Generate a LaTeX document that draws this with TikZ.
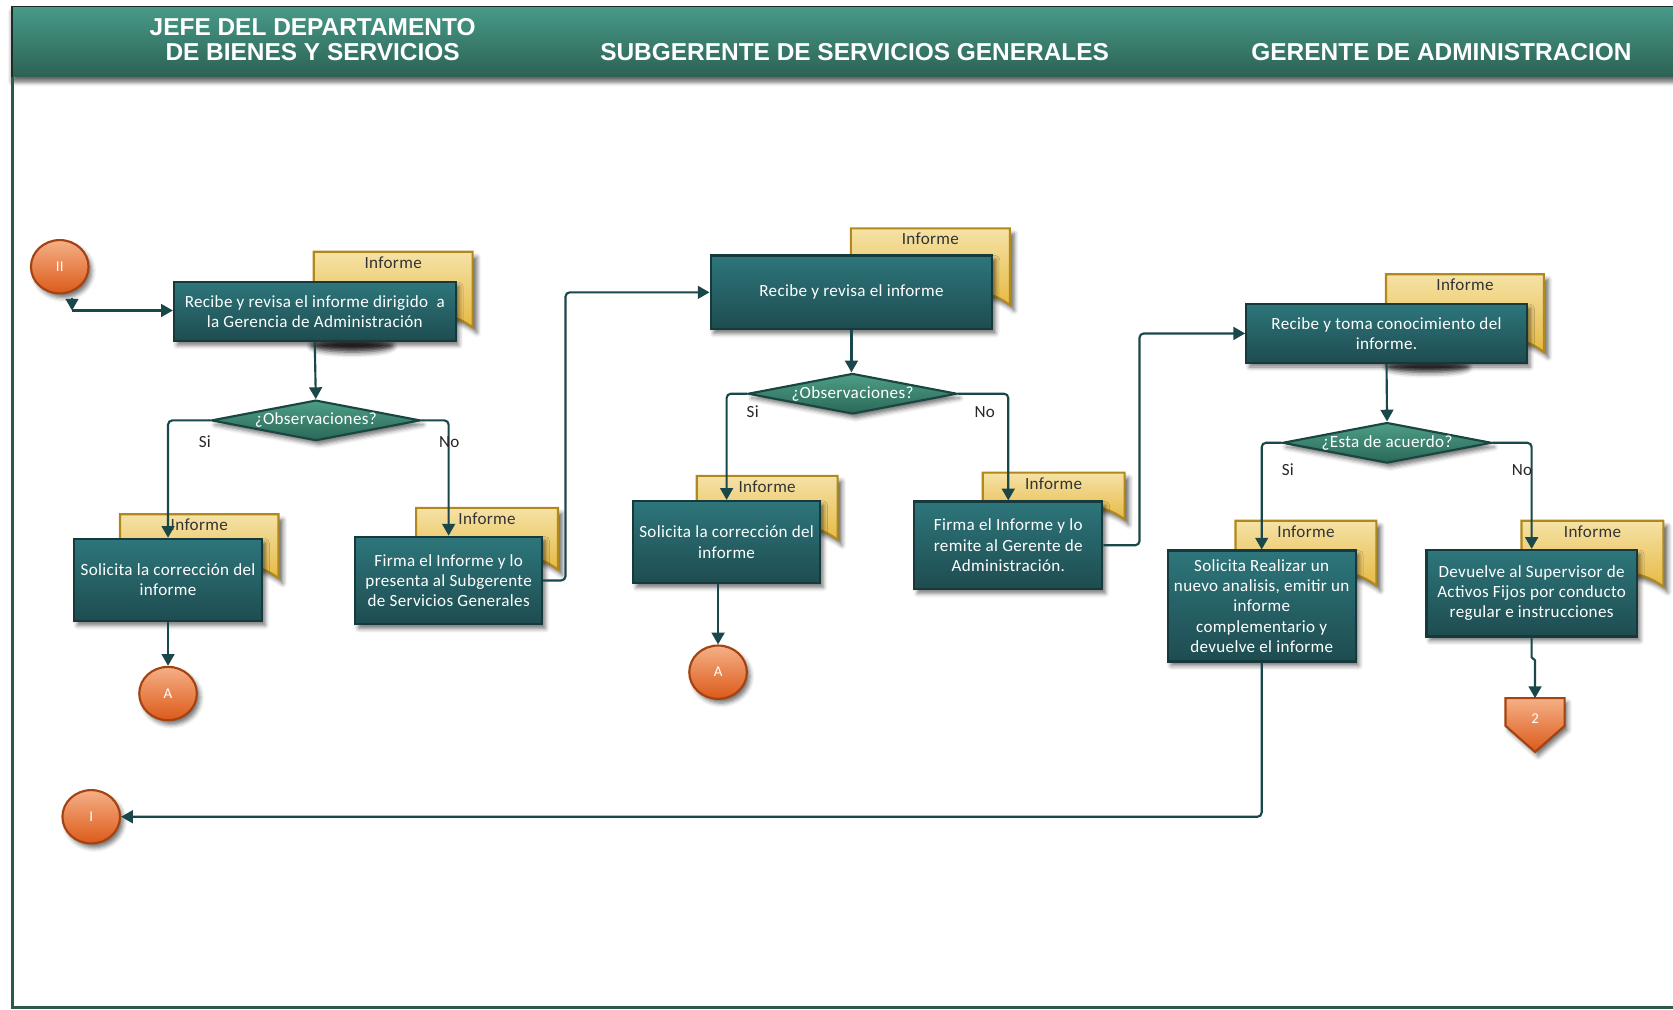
\documentclass[tikz,border=0pt]{standalone}
\usepackage{fontspec}
\setmainfont{Carlito}[LetterSpace=2]
\newfontfamily\headfont{Liberation Sans}
\usetikzlibrary{shapes.geometric,arrows.meta,shadows.blur}

\definecolor{hdtop}{RGB}{72,154,137}
\definecolor{hdbot}{RGB}{44,98,84}
\definecolor{hdline}{RGB}{24,44,40}
\definecolor{framecol}{RGB}{44,88,78}
\definecolor{boxtop}{RGB}{45,118,123}
\definecolor{boxbot}{RGB}{30,76,80}
\definecolor{boxedge}{RGB}{22,58,60}
\definecolor{dtop}{RGB}{78,158,134}
\definecolor{dbot}{RGB}{42,104,88}
\definecolor{dedge}{RGB}{26,70,66}
\definecolor{doctop}{RGB}{245,226,166}
\definecolor{docbot}{RGB}{230,184,66}
\definecolor{docedge}{RGB}{176,136,28}
\definecolor{ctop}{RGB}{245,176,134}
\definecolor{cbot}{RGB}{220,90,26}
\definecolor{cedge}{RGB}{164,66,18}
\definecolor{wire}{RGB}{26,72,74}

\tikzset{
  softshadow/.style={blur shadow={shadow xshift=3pt, shadow yshift=-4pt,
      shadow blur radius=4pt, shadow opacity=55}},
  procbox/.style={draw=boxedge, line width=2pt, top color=boxtop,
      bottom color=boxbot, text=white, align=center, inner sep=2pt,
      font=\fontsize{16}{19}\selectfont, softshadow},
  decision/.style={shape=diamond, aspect=5.1, inner sep=0pt, draw=dedge,
      line width=2pt, top color=dtop, bottom color=dbot, text=white,
      minimum width=196pt, minimum height=38pt,
      font=\fontsize{16}{19}\selectfont, softshadow},
  docshape/.style={draw=docedge, line width=2pt, top color=doctop,
      bottom color=docbot, blur shadow={shadow xshift=4pt, shadow yshift=-5pt,
      shadow blur radius=4pt, shadow opacity=60}},
  doclabel/.style={text=black!80, inner sep=0pt, font=\fontsize{16}{19}\selectfont},
  connector/.style={shape=ellipse, minimum width=54pt, minimum height=50pt,
      inner sep=0pt, draw=cedge, line width=2pt, top color=ctop,
      bottom color=cbot, text=white, font=\fontsize{14}{16}\selectfont, softshadow},
  flow/.style={draw=wire, line width=2pt, rounded corners=4pt,
      -{Triangle[length=11pt,width=12pt]}},
  branch/.style={text=black!85, inner sep=0pt, font=\fontsize{16}{19}\selectfont},
  heading/.style={text=white, align=center, inner sep=0pt,
      font=\headfont\bfseries\fontsize{22.9}{23.5}\selectfont},
}

% a sheet with a curled lower edge, labelled "Informe"
\newcommand{\docpage}[5]{%
  \path[docshape] (#2,#3) -- (#4,#3) -- (#4,#5)
    .. controls ({#4-10},{#5-8}) and ({#4-25},{#5-14}) .. ({#4-45},{#5-14})
    .. controls ({(#2+#4)/2},{#5-14}) and ({#2+30},{#5+2}) .. (#2,{#5-2}) -- cycle;
  \node[doclabel] (#1) at ({(#2+#4)/2},{#3+10}) {Informe};
}

\begin{document}
\begin{tikzpicture}[x=1pt,y=-1pt]
\useasboundingbox (0,0) rectangle (1568,946);

% lane header
\path[blur shadow={shadow xshift=0pt, shadow yshift=-5pt, shadow blur radius=4pt,
      shadow opacity=60}, top color=hdtop, bottom color=hdbot]
  (11.5,6) rectangle (1575,72);
\draw[hdline, line width=1.5pt] (11.5,72) -- (11.5,6) -- (1575,6);
\node[heading] (h1) at (293,37.5) {JEFE DEL DEPARTAMENTO\\DE BIENES Y SERVICIOS};
\node[heading] (h2) at (801,49) {SUBGERENTE DE SERVICIOS GENERALES};
\node[heading] (h3) at (1351,49) {GERENTE DE ADMINISTRACION};

% outer frame
\draw[framecol, line width=2.5pt] (11.5,72) -- (11.5,944) -- (1575,944);

% dark shadows under the first sheets
\path[blur shadow={shadow xshift=0pt, shadow yshift=0pt, shadow blur radius=5pt,
      shadow opacity=85}] (330,324) ellipse (38pt and 6pt);
\path[blur shadow={shadow xshift=0pt, shadow yshift=0pt, shadow blur radius=5pt,
      shadow opacity=85}] (1338,344) ellipse (38pt and 5pt);

% sheets
\docpage{doc1}{294}{236}{443}{307}
\docpage{docs1}{112.5}{482}{261}{542}
\docpage{docf1}{390}{476}{523}{534}
\docpage{docr2}{797.5}{214}{946.5}{286}
\docpage{docs2}{653}{446}{785}{506}
\docpage{docf2}{921}{443}{1054}{487}
\docpage{docr3}{1299}{257}{1447}{330}
\docpage{docs3}{1158}{488}{1290}{549}
\docpage{docdv}{1426}{488}{1559}{550}

% process boxes
\node[procbox, minimum width=264pt, minimum height=55pt] (r1) at (295,292)
  {Recibe y revisa el informe dirigido\ \ a\\la Gerencia de Administración};
\node[procbox, minimum width=176pt, minimum height=77pt] (s1) at (157.5,543.5)
  {Solicita la corrección del\\informe};
\node[procbox, minimum width=175pt, minimum height=82pt] (f1) at (420.5,544)
  {Firma el Informe y lo\\presenta al Subgerente\\de Servicios Generales};
\node[procbox, minimum width=264pt, minimum height=69pt] (r2) at (798,274)
  {Recibe y revisa el informe};
\node[procbox, minimum width=175pt, minimum height=77pt] (s2) at (681,508)
  {Solicita la corrección del\\informe};
\node[procbox, minimum width=176pt, minimum height=82pt] (f2) at (945,511)
  {Firma el Informe y lo\\remite al Gerente de\\Administración.};
\node[procbox, minimum width=263pt, minimum height=55pt] (r3) at (1299.5,312.5)
  {Recibe y toma conocimiento del\\informe.};
\node[procbox, minimum width=176pt, minimum height=104pt] (s3) at (1182.5,568)
  {Solicita Realizar un\\nuevo analisis, emitir un\\informe\\complementario y\\devuelve el informe};
\node[procbox, minimum width=197pt, minimum height=81pt] (dv) at (1435.5,556)
  {Devuelve al Supervisor de\\Activos Fijos por conducto\\regular e instrucciones};

% decisions
\node[decision] (d1) at (296,394) {¿Observaciones?};
\node[decision] (d2) at (799,369) {¿Observaciones?};
\node[decision] (d3) at (1300,415) {¿Esta de acuerdo?};

% on-page connectors
\node[connector] (cII) at (56,250) {II};
\node[connector] (cA1) at (157.5,650) {A};
\node[connector] (cA2) at (673,630) {A};
\node[connector] (cI) at (85.5,765.5) {I};

% off-page connector
\node[minimum width=55pt, minimum height=50pt, inner sep=0pt] (off2) at (1438.7,679.5) {};
\path[draw=cedge, line width=2pt, top color=ctop, bottom color=cbot, softshadow]
  (off2.north west) -- (off2.north east) -- ([yshift=-26pt]off2.north east)
  -- (off2.south) -- ([yshift=-26pt]off2.north west) -- cycle;
\node[text=white, inner sep=0pt, font=\fontsize{14}{16}\selectfont] (off2t)
  at ([yshift=-19pt]off2.north) {2};

% connectors
\coordinate (iitop) at (67.5,279);
\coordinate (iicorner) at (67.5,291);
\draw[flow] (iitop) -- (iicorner);
\draw[flow] (iicorner) -- (iicorner -| r1.west);
\draw[flow] (r1.south) -- (d1.north);
\draw[flow] (d1.west) -| (s1.north);
\draw[flow] (d1.east) -| (f1.north);
\draw[flow] (s1.south) -- (cA1.north);
\draw[flow] (f1.east) -- ++(21,0) |- (r2.west);
\draw[flow] (r2.south) -- (r2.south |- d2.north);
\draw[flow] (d2.west) -| (s2.north);
\draw[flow] (d2.east) -| (f2.north);
\draw[flow] (s2.south -| cA2.north) -- (cA2.north);
\draw[flow] (f2.east) -- ++(34,0) |- (r3.west);
\draw[flow] (r3.south) -- (d3.north);
\draw[flow] (d3.west) -| (s3.north);
\draw[flow] (d3.east) -| (dv.north);
\draw[flow] (s3.south) |- (cI.east);
\draw[flow, rounded corners=1.5pt] (dv.south) -- ++(0,20) -| (off2.north);

% branch labels
\node[branch] (si1) at (192,414) {Si};
\node[branch] (no1) at (421,414) {No};
\node[branch] (si2) at (705.5,386) {Si};
\node[branch] (no2) at (923,386) {No};
\node[branch] (si3) at (1207,440.5) {Si};
\node[branch] (no3) at (1426.5,440.5) {No};
\end{tikzpicture}
\end{document}
